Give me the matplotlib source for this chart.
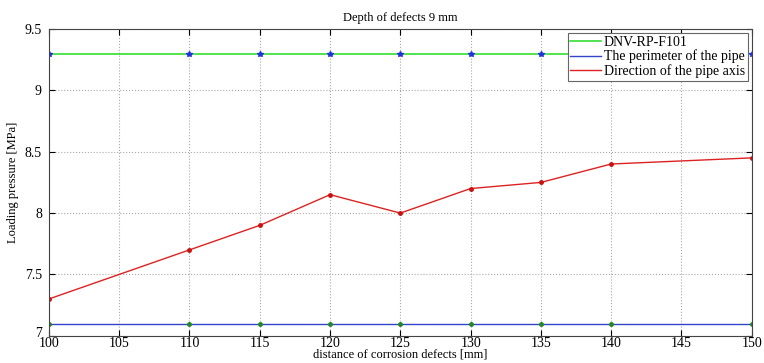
import matplotlib.pyplot as plt
import matplotlib.transforms as mtransforms

plt.rcParams['font.family'] = ['Liberation Serif', 'DejaVu Serif']

# distances (no point at 105 and 145)
distance = [100, 110, 115, 120, 125, 130, 135, 140, 150]
dnv = [9.3, 9.3, 9.3, 9.3, 9.3, 9.3, 9.3, 9.3, 9.3]
perimeter = [7.1, 7.1, 7.1, 7.1, 7.1, 7.1, 7.1, 7.1, 7.1]
axis_dir = [7.3, 7.7, 7.9, 8.15, 8.0, 8.2, 8.25, 8.4, 8.45]

fig = plt.figure(figsize=(7.64, 3.63), dpi=100)
ax = fig.add_axes([0.064, 0.075, 0.920, 0.845])

# lines first, markers on top (matlab style colour swap)
ax.plot(distance, dnv, color='#33dd33', lw=1.2, label='DNV-RP-F101')
ax.plot(distance, perimeter, color='#3344cc', lw=1.0, label='The perimeter of the pipe')
ax.plot(distance, axis_dir, color='#dd2222', lw=1.0, label='Direction of the pipe axis')
ax.plot(distance, dnv, ls='none', marker='*', ms=4, color='#2233dd')
ax.plot(distance, perimeter, ls='none', marker='o', ms=2.5, color='#228822')
ax.plot(distance, axis_dir, ls='none', marker='o', ms=2.5, color='#cc1111')

ax.set_xlim(100, 150)
ax.set_ylim(7, 9.5)
ax.set_xticks(range(100, 151, 5))
ax.set_yticks([7, 7.5, 8, 8.5, 9, 9.5])
ax.set_yticklabels(['7', '7.5', '8', '8.5', '9', '9.5'])
ax.tick_params(direction='in', top=True, right=True, labelsize=10, length=4)
ax.tick_params(axis='x', pad=1)
ax.tick_params(axis='y', pad=5)
ax.grid(True, linestyle=':', color='#aaaaaa', lw=0.8)
for s in ax.spines.values():
    s.set_color('#444444')

# nudge the lowest y label up so it doesn't sit on "100"
fig.canvas.draw()
lab7 = ax.get_yticklabels()[0]
lab7.set_transform(lab7.get_transform() + mtransforms.ScaledTranslation(0, 3 / 72, fig.dpi_scale_trans))

ax.set_title('Depth of defects 9 mm', fontsize=9, pad=6)
ax.set_xlabel('distance of corrosion defects [mm]', fontsize=9, labelpad=-1)
ax.set_ylabel('Loading pressure [MPa]', fontsize=9, labelpad=4)

leg = ax.legend(loc='upper right', fontsize=10, handlelength=2.2, handletextpad=0.2,
                borderpad=0.2, labelspacing=0.05, fancybox=False, framealpha=1,
                borderaxespad=0.3)
leg.get_frame().set_edgecolor('#666666')
leg.get_frame().set_linewidth(0.8)

plt.savefig('out.png', dpi=100)
